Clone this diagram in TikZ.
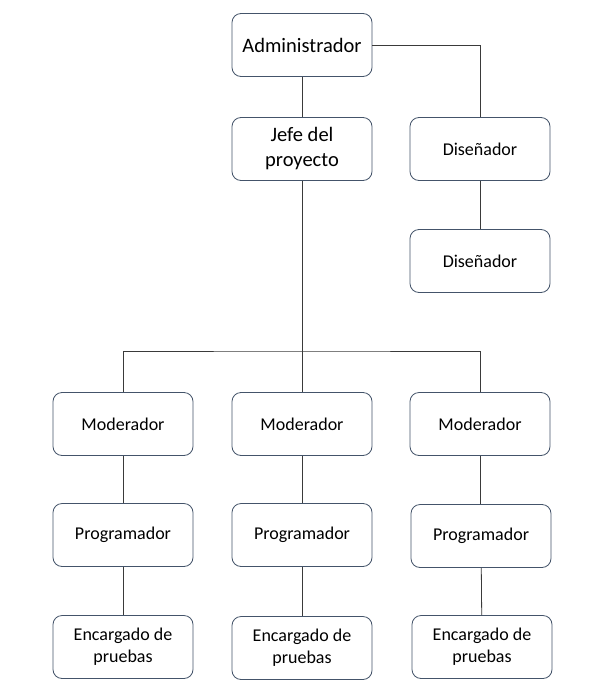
\documentclass[tikz,border=0pt]{standalone}
\usepackage{fontspec}
\setmainfont{Carlito}
\definecolor{boxline}{HTML}{44546A}
\definecolor{wire}{HTML}{3A3A3A}

\begin{document}
\begin{tikzpicture}[x=1pt, y=-1pt,
    puesto/.style={draw=boxline, line width=0.8pt, rounded corners=9pt, fill=white,
      minimum width=140pt, minimum height=63pt, align=center,
      font=\fontsize{18}{22}\selectfont},
    grande/.style={font=\fontsize{20.5}{25}\selectfont},
    enlace/.style={draw=wire, line width=0.8pt}]
      \useasboundingbox (0,0) rectangle (597,683);
      \node[puesto,grande] (admin) at (302, 45) {Administrador};
      \node[puesto,grande] (jefe) at (302, 149) {Jefe del\\proyecto};
      \node[puesto] (dis1) at (480, 149) {Diseñador};
      \node[puesto] (dis2) at (480, 261) {Diseñador};
      \node[puesto] (mod1) at (123, 424) {Moderador};
      \node[puesto] (mod2) at (302, 424) {Moderador};
      \node[puesto] (mod3) at (480, 424) {Moderador};
      \node[puesto] (prog1) at (123, 535) {Programador};
      \node[puesto] (prog2) at (302, 535) {Programador};
      \node[puesto] (prog3) at (481, 536) {Programador};
      \node[puesto] (enc1) at (123, 647) {Encargado de\\pruebas};
      \node[puesto] (enc2) at (302, 648) {Encargado de\\pruebas};
      \node[puesto] (enc3) at (482, 647) {Encargado de\\pruebas};
      \coordinate (bus) at (302, 351);
      \draw[enlace] (admin) -- (jefe);
      \draw[enlace] (admin.east) -| (dis1.north);
      \draw[enlace] (dis1) -- (dis2);
      \draw[enlace] (jefe) -- (mod2);
      \draw[enlace] (mod1.north) |- (bus) -| (mod3.north);
      \draw[enlace] (mod1) -- (prog1);
      \draw[enlace] (mod2) -- (prog2);
      \draw[enlace] (mod3.south) -- (prog3.north -| mod3.south);
      \draw[enlace] (prog1) -- (enc1);
      \draw[enlace] (prog2) -- (enc2);
      \draw[enlace] (prog3) -- (enc3);
    \end{tikzpicture}
\end{document}
